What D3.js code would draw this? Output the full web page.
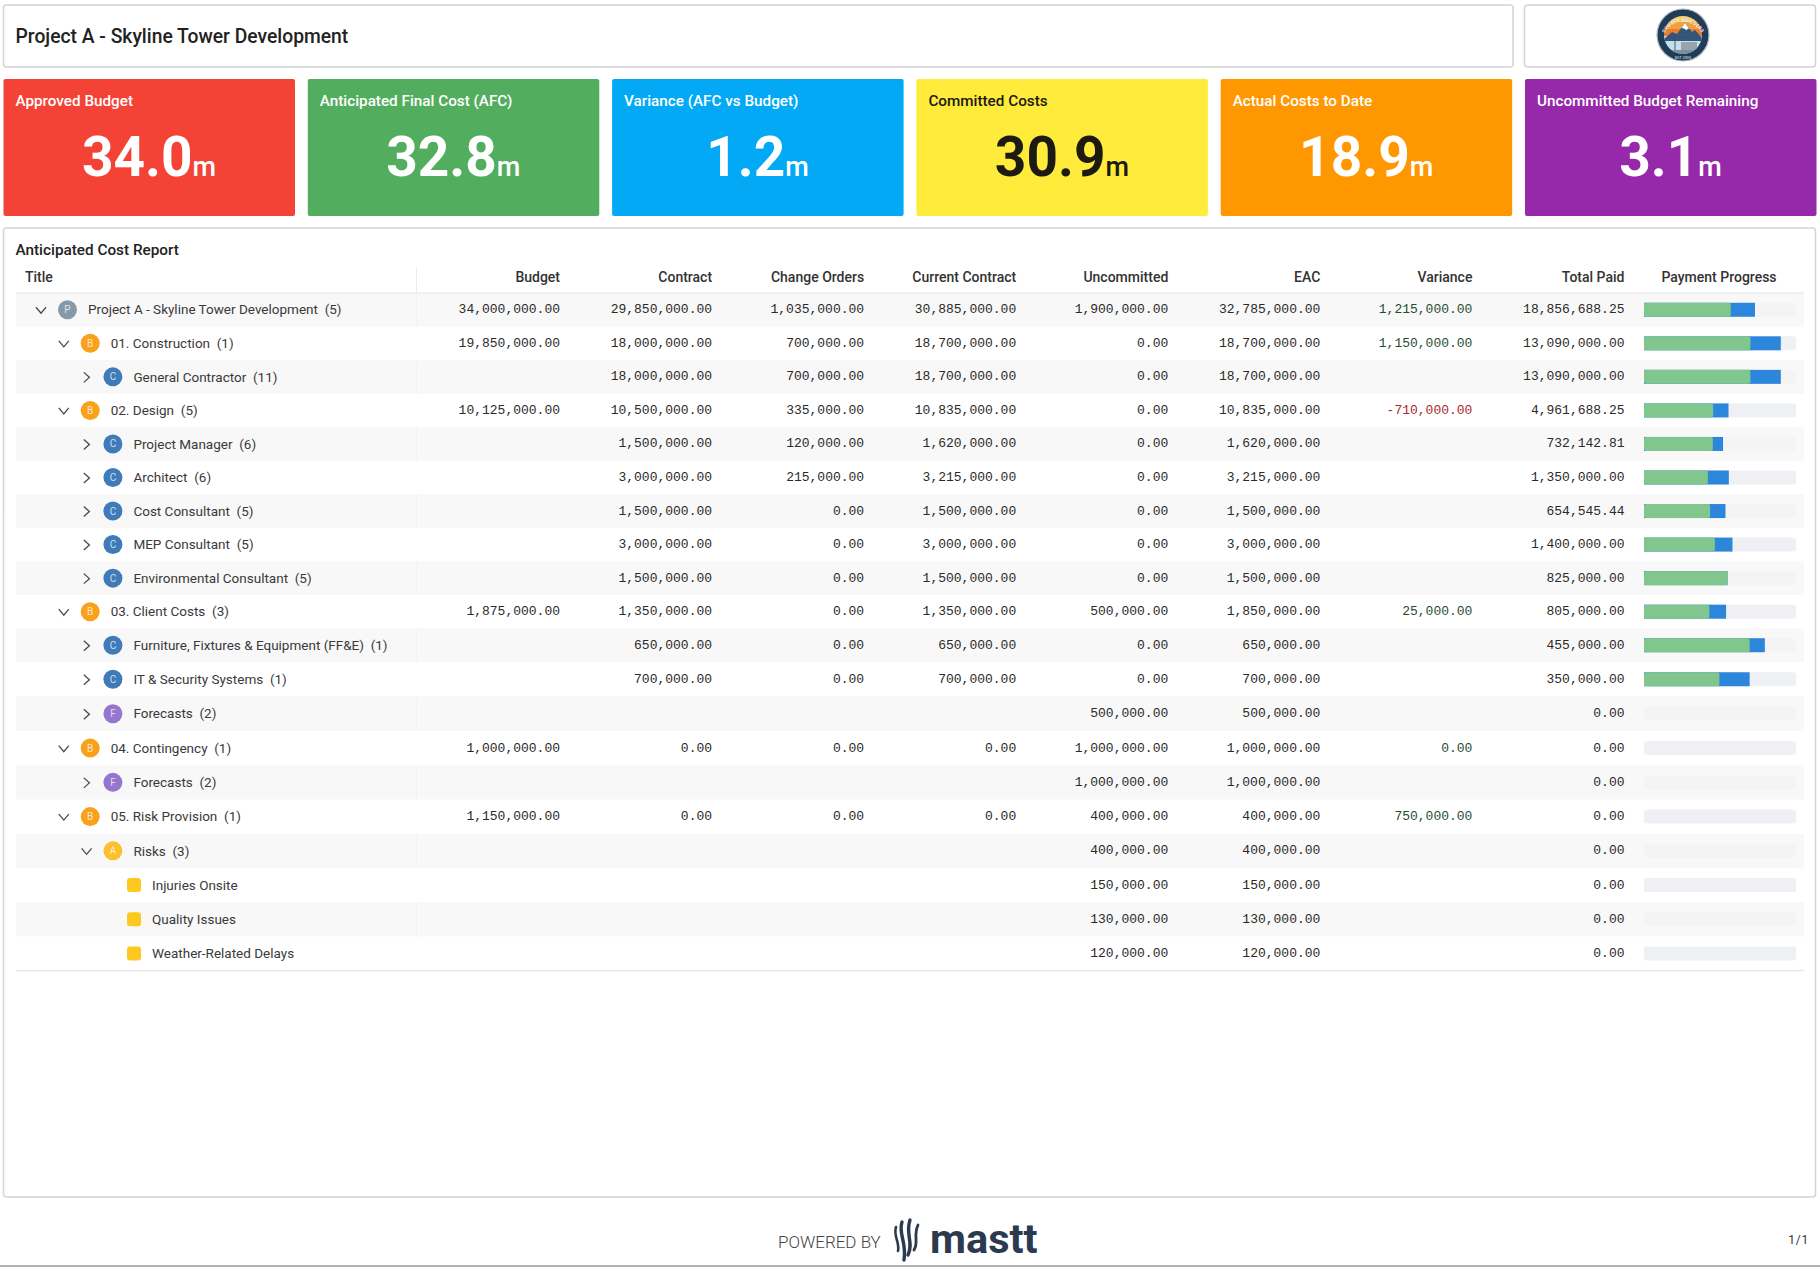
<!DOCTYPE html>
<html><head><meta charset="utf-8">
<script src="https://cdn.jsdelivr.net/npm/d3@7"></script>
<style>
html,body{margin:0;padding:0;background:#fff}
svg{display:block}
text{font-family:Roboto,sans-serif}
</style></head><body><svg id="c" width="1820" height="1267" viewBox="0 0 1820 1267"></svg>
<script>
const reportTitle = "Project A - Skyline Tower Development";
const tableTitle = "Anticipated Cost Report";
const kpiLabels = ["Approved Budget","Anticipated Final Cost (AFC)","Variance (AFC vs Budget)","Committed Costs","Actual Costs to Date","Uncommitted Budget Remaining"];
const kpiValues = ["34.0","32.8","1.2","30.9","18.9","3.1"];
const kpiColors = ["#F44336","#52AE5E","#03A9F4","#FFEB3B","#FF9800","#9629A9"];
const kpiInk = ["#fff","#fff","#fff","#1c1a12","#fff","#fff"];
const columns = ["Budget","Contract","Change Orders","Current Contract","Uncommitted","EAC","Variance","Total Paid"];
const titles = ["Project A - Skyline Tower Development","01. Construction","General Contractor","02. Design","Project Manager","Architect","Cost Consultant","MEP Consultant","Environmental Consultant","03. Client Costs","Furniture, Fixtures & Equipment (FF&E)","IT & Security Systems","Forecasts","04. Contingency","Forecasts","05. Risk Provision","Risks","Injuries Onsite","Quality Issues","Weather-Related Delays"];
const counts = [5,1,11,5,6,6,5,5,5,3,1,1,2,1,2,1,3,null,null,null];
const levels = [0,1,2,1,2,2,2,2,2,1,2,2,2,1,2,1,2,3,3,3];
const badges = ["P","B","C","B","C","C","C","C","C","B","C","C","F","B","F","B","A","","",""];
const expanded = [1,1,0,1,0,0,0,0,0,1,0,0,0,1,0,1,1,null,null,null];
const budget = [34000000,19850000,null,10125000,null,null,null,null,null,1875000,null,null,null,1000000,null,1150000,null,null,null,null];
const contract = [29850000,18000000,18000000,10500000,1500000,3000000,1500000,3000000,1500000,1350000,650000,700000,null,0,null,0,null,null,null,null];
const changeOrders = [1035000,700000,700000,335000,120000,215000,0,0,0,0,0,0,null,0,null,0,null,null,null,null];
const currentContract = [30885000,18700000,18700000,10835000,1620000,3215000,1500000,3000000,1500000,1350000,650000,700000,null,0,null,0,null,null,null,null];
const uncommitted = [1900000,0,0,0,0,0,0,0,0,500000,0,0,500000,1000000,1000000,400000,400000,150000,130000,120000];
const eac = [32785000,18700000,18700000,10835000,1620000,3215000,1500000,3000000,1500000,1850000,650000,700000,500000,1000000,1000000,400000,400000,150000,130000,120000];
const variance = [1215000,1150000,null,-710000,null,null,null,null,null,25000,null,null,null,0,null,750000,null,null,null,null];
const totalPaid = [18856688.25,13090000,13090000,4961688.25,732142.81,1350000,654545.44,1400000,825000,805000,455000,350000,0,0,0,0,0,0,0,0];
const progressPaid = [0.571,0.70,0.70,0.455,0.453,0.42,0.435,0.466,0.55,0.43,0.695,0.496,0,0,0,0,0,0,0,0];
const progressCommitted = [0.73,0.90,0.90,0.556,0.52,0.558,0.536,0.582,0.55,0.54,0.795,0.695,0,0,0,0,0,0,0,0];
const badgeColors = {P:"#8599A8",B:"#F9A11B",C:"#3F7BB9",F:"#9575CD",A:"#FBC02D"};
const columnData = [budget,contract,changeOrders,currentContract,uncommitted,eac,variance,totalPaid];

const svg = d3.select("#c");
const defs = svg.append("defs");
const panel = (x,y,w,h)=>svg.append("rect").attr("x",x).attr("y",y).attr("width",w).attr("height",h).attr("rx",3).attr("fill","#fff").attr("stroke","#d4d4d4").attr("stroke-width",1.5);
const fmt = d3.formatLocale({decimal:".",thousands:",",grouping:[3],currency:["",""],minus:"-"}).format(",.2f");

// header
panel(3.5,5,1509.5,62);
panel(1524.5,5,291,62);
svg.append("text").attr("x",15.5).attr("y",43).attr("font-size",19.3).attr("font-weight",500).attr("fill","#222").text(reportTitle);

// logo
(function(){
  const g = svg.append("g").attr("transform","translate(1683,35)");
  g.append("circle").attr("r",26).attr("fill","#203c58").attr("stroke","#aeb9c4").attr("stroke-width",1.2);
  defs.append("clipPath").attr("id","lc").append("circle").attr("r",19);
  const s = g.append("g").attr("clip-path","url(#lc)");
  s.append("rect").attr("x",-20).attr("y",-20).attr("width",40).attr("height",8).attr("fill","#f7d070");
  s.append("rect").attr("x",-20).attr("y",-13).attr("width",40).attr("height",8).attr("fill","#f3a13f");
  s.append("rect").attr("x",-20).attr("y",-6).attr("width",40).attr("height",8).attr("fill","#ea7d30");
  s.append("rect").attr("x",-20).attr("y",1).attr("width",40).attr("height",19).attr("fill","#c4e0ea");
  s.append("path").attr("d","M-20,5 L-11,-3 L-6,-1 L2,-12 L9,-3 L12,-5 L20,4 L20,6 L-20,6Z").attr("fill","#33567a");
  s.append("path").attr("d","M2,-12 L6,-6.5 L3,-5 L1,-6.5 L-1.5,-7Z").attr("fill","#fff");
  s.append("rect").attr("x",-2).attr("y",7).attr("width",16).attr("height",8).attr("fill","#97a5af");
  s.append("path").attr("d","M-8,15 L-8,0 M-15,2 L4,2").attr("stroke","#34516e").attr("stroke-width",.9).attr("fill","none");
  s.append("rect").attr("x",-20).attr("y",15).attr("width",40).attr("height",5).attr("fill","#7b8f9f");
  defs.append("path").attr("id","la").attr("d","M-20.5,4 A20.8,20.8 0 0 1 20.5,4");
  g.append("text").attr("font-size",4.6).attr("font-weight",700).attr("fill","#e8eef3").attr("letter-spacing",.35).append("textPath").attr("href","#la").attr("startOffset","50%").attr("text-anchor","middle").text("SUMMIT BUILDERS");
  g.append("text").attr("y",23.5).attr("text-anchor","middle").attr("font-size",3.8).attr("fill","#e8eef3").text("EST 2005");
})();

// KPI tiles
const tileX = d3.scalePoint().domain(d3.range(kpiLabels.length)).range([3.5,1525]);
const tiles = svg.selectAll("g.t").data(kpiLabels).join("g").attr("class","t").attr("transform",(d,i)=>`translate(${tileX(i)},79)`);
tiles.append("rect").attr("width",291.5).attr("height",137).attr("rx",2).attr("fill",(d,i)=>kpiColors[i]);
tiles.append("text").attr("x",12).attr("y",27).attr("font-size",15.25).attr("font-weight",500).attr("fill",(d,i)=>kpiInk[i]).text(d=>d);
const big = tiles.append("text").attr("x",145.5).attr("y",96.5).attr("text-anchor","middle").attr("font-weight",700).attr("fill",(d,i)=>kpiInk[i]);
big.append("tspan").attr("font-size",55).text((d,i)=>kpiValues[i]);
big.append("tspan").attr("font-size",27).attr("font-weight",500).text("m");

// table
panel(3.5,228,1812,969);
svg.append("text").attr("x",15.5).attr("y",255).attr("font-size",15.3).attr("font-weight",500).attr("fill","#222").text(tableTitle);
const rowEdge = d3.scaleLinear().domain([0,11,13,20]).range([293,662,731,970.7]);
const colX = d3.scalePoint().domain(columns).range([560,1624.5]);
const barX = d3.scaleLinear().domain([0,1]).range([1644,1796]);
const hdr = svg.append("g").attr("font-size",14).attr("font-weight",500).attr("fill","#333");
hdr.append("text").attr("x",25).attr("y",281.5).text("Title");
hdr.selectAll("text.c").data(columns).join("text").attr("class","c").attr("x",d=>colX(d)).attr("y",281.5).attr("text-anchor","end").text(d=>d);
hdr.append("text").attr("x",1719).attr("y",281.5).attr("text-anchor","middle").text("Payment Progress");

const rows = svg.selectAll("g.r").data(titles).join("g").attr("class","r").attr("transform",(d,i)=>`translate(0,${rowEdge(i)})`);
rows.each(function(d,i){
  const g = d3.select(this), h = rowEdge(i+1)-rowEdge(i), lv = levels[i], cy = h/2, bx = 67.5+lv*22.7, cx = 41+lv*22.8;
  if(i%2===0){
    g.append("rect").attr("x",16).attr("width",1788).attr("height",h).attr("fill","#f8f8f8");
    g.append("line").attr("x1",416.5).attr("x2",416.5).attr("y1",0).attr("y2",h).attr("stroke","#f3f3f3");
  }
  if(expanded[i]!==null){
    const dp = expanded[i] ? `M-5,-3 L0,3 L5,-3` : `M-2.8,-5 L2.8,0 L-2.8,5`;
    g.append("path").attr("transform",`translate(${cx},${cy+.5})`).attr("d",dp).attr("fill","none").attr("stroke","#4a4a4a").attr("stroke-width",1.3);
    g.append("circle").attr("cx",bx).attr("cy",cy).attr("r",9.5).attr("fill",badgeColors[badges[i]]);
    g.append("text").attr("x",bx).attr("y",cy).attr("dy",".35em").attr("text-anchor","middle").attr("font-size",10).attr("fill","#fff").attr("fill-opacity",.75).text(badges[i]);
  } else {
    g.append("rect").attr("x",127).attr("y",cy-7).attr("width",14).attr("height",14).attr("rx",3).attr("fill","#FFC81E");
  }
  const lx = expanded[i]!==null ? 88+lv*22.7 : 152;
  g.append("text").attr("x",lx).attr("y",cy).attr("dy",".35em").attr("font-size",13.5).attr("fill","#3a3a3a").attr("xml:space","preserve")
    .text(counts[i]===null ? d : `${d}  (${counts[i]})`);
  columns.forEach((c,j)=>{
    const v = columnData[j][i];
    if(v===null) return;
    g.append("text").attr("x",colX(c)).attr("y",cy-1).attr("dy",".35em").attr("text-anchor","end")
      .style("font-family","'Liberation Mono',monospace").attr("font-size",13)
      .attr("fill", c==="Variance" ? (v<0?"#a82a2a":"#1f4d33") : "#2a2a2a").text(fmt(v));
  });
  g.append("rect").attr("x",barX(0)).attr("y",cy-7).attr("width",barX(1)-barX(0)).attr("height",14).attr("rx",3).attr("fill",i%2? "#eef0f4":"#f4f4f5");
  if(progressCommitted[i]>0){
    g.append("rect").attr("x",barX(0)).attr("y",cy-7).attr("width",barX(progressCommitted[i])-barX(0)).attr("height",14).attr("fill","#2B86DC");
    g.append("rect").attr("x",barX(0)).attr("y",cy-7).attr("width",barX(progressPaid[i])-barX(0)).attr("height",14).attr("rx",2).attr("fill","#81C68C");
  }
});
svg.append("line").attr("x1",16).attr("x2",1804).attr("y1",293).attr("y2",293).attr("stroke","#e4e4e4").attr("stroke-width",1.2);
svg.append("line").attr("x1",16).attr("x2",1804).attr("y1",970.7).attr("y2",970.7).attr("stroke","#e4e4e4").attr("stroke-width",1.2);
svg.append("line").attr("x1",416.5).attr("x2",416.5).attr("y1",268).attr("y2",293).attr("stroke","#ececec");

// footer
svg.append("text").attr("x",778).attr("y",1248).attr("font-size",17).attr("font-weight",300).attr("fill","#444").text("POWERED BY");
const mk = svg.append("g").attr("transform","translate(908,1240)").attr("fill","none").attr("stroke","#2b3a4e").attr("stroke-linecap","round");
mk.append("path").attr("d","M-12,-13 C-15,-4 -8,2 -10,11").attr("stroke-width",2.6);
mk.append("path").attr("d","M-6,-18 C-10,-6 -1,2 -4,20").attr("stroke-width",3.4);
mk.append("path").attr("d","M2,-20 C-3,-6 6,2 0,15").attr("stroke-width",3.4);
mk.append("path").attr("d","M10,-15 C5,-4 11,2 6,10").attr("stroke-width",2.8);
svg.append("text").attr("x",930).attr("y",1253).attr("font-size",41.5).attr("font-weight",700).attr("fill","#2b3a4e").text("mastt");
svg.append("text").attr("x",1809).attr("y",1244).attr("text-anchor","end").attr("font-size",12).attr("letter-spacing",.8).attr("fill","#333").text("1/1");
svg.append("line").attr("x1",0).attr("x2",1820).attr("y1",1266).attr("y2",1266).attr("stroke","#999").attr("stroke-width",1.4);
</script></body></html>
